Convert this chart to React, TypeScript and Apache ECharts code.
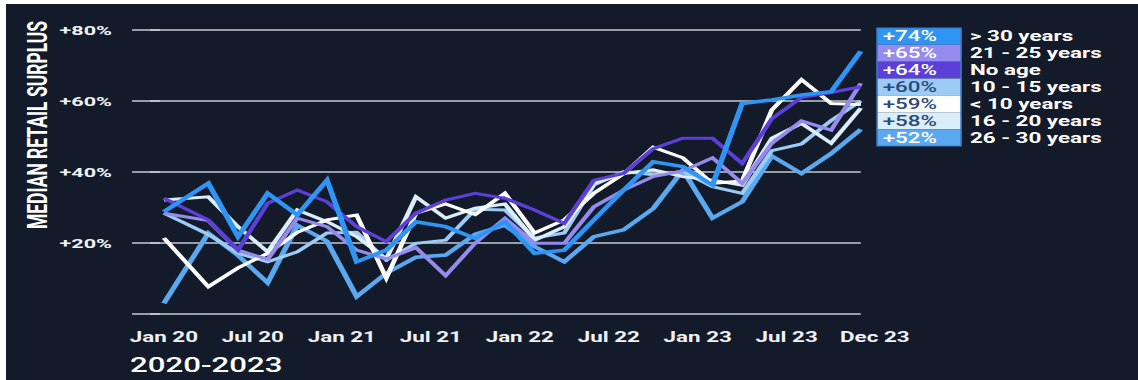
import React, { useEffect, useRef } from "react";
import * as echarts from "echarts";

// months since Jan 2020 for each observation
const months = [0, 3, 5, 7, 9, 11, 13, 15, 17, 19, 21, 23, 25, 27, 29, 31, 33, 35, 37, 39, 41, 43, 45, 47];

const over30 = [28.8, 36.8, 21.8, 34.0, 27.9, 37.7, 14.7, 18.0, 26.0, 24.6, 21.3, 26.0, 17.1, 18.0, 26.5, 34.9, 42.9, 41.5, 36.3, 59.3, 60.3, 61.7, 62.6, 74];
const y21to25 = [28.4, 26.3, 18, 15.4, 27, 24.6, 18, 15.5, 18.7, 10.8, 20, 27, 19.9, 19.9, 30.2, 34.9, 38.7, 40.3, 44, 36.8, 48.1, 54.4, 51.8, 65];
const noAge = [32.6, 26.5, 18, 31.2, 34.9, 31.6, 24.6, 20.4, 28.4, 32.1, 34, 32.6, 29.3, 25.5, 37.7, 39.6, 46.6, 49.5, 49.5, 42.4, 55, 61, 62.4, 64];
const y10to15 = [28.4, 22.4, 17.1, 14.7, 17.5, 22.8, 23, 15.2, 19.9, 20.8, 29.5, 29.3, 21.4, 22.8, 36.3, 40.1, 39.2, 40.1, 35.9, 34, 46, 47.9, 54.5, 60];
const under10 = [21.4, 7.7, 13, 17.1, 23, 26.5, 27.9, 10.1, 28.4, 31, 28, 34, 22.8, 26.5, 34, 39.5, 47, 44, 36.8, 37.5, 57.5, 66, 59.3, 59];
const y16to20 = [32.1, 33, 24.6, 17.5, 29.3, 26, 21.8, 15.5, 33, 27, 29.8, 31, 20.8, 24.6, 36.8, 39.6, 40.6, 38.7, 37.7, 36.3, 49.5, 53.7, 48.1, 58];
const y26to30 = [3.0, 22.8, 16.5, 8.8, 25.0, 20.5, 4.9, 11.5, 16, 16.6, 22.5, 25, 19, 14.7, 21.8, 23.7, 29.7, 40.5, 27, 31.6, 44.5, 39.6, 45.2, 52];

const seriesNames = ["> 30 years", "21 - 25 years", "No age", "10 - 15 years", "< 10 years", "16 - 20 years", "26 - 30 years"];
const seriesValues = [over30, y21to25, noAge, y10to15, under10, y16to20, y26to30];

const tickMonths = [0, 6, 12, 18, 24, 30, 36, 42, 47];
const tickLabels = ["Jan 20", "Jul 20", "Jan 21", "Jul 21", "Jan 22", "Jul 22", "Jan 23", "Jul 23", "Dec 23"];
const yTicks = [0, 20, 40, 60, 80];

// styling
const lineColors = ["#2f95f5", "#958aee", "#5b3fd6", "#9ccbf5", "#ffffff", "#dcedfa", "#5aa8f0"];
const boxText = ["#ffffff", "#ffffff", "#ffffff", "#2b4a7b", "#2b4a7b", "#2b4a7b", "#ffffff"];
const lineWidths = [3.5, 3, 3, 3, 3, 3, 3.5];
const drawOrder = [6, 3, 5, 4, 1, 2, 0];

const PAGE_W = 1132;
const PAGE_H = 376;
const SX = 1.6;
const CW = PAGE_W / SX;

export default function App() {
  const ref = useRef<HTMLDivElement>(null);
  useEffect(() => {
    if (!ref.current) return;
    const chart = echarts.init(ref.current, undefined, { renderer: "svg" });
    const rowH = 16.86;
    const boxX = 544.4;
    const boxY = 24;
    const boxW = 52.5;
    const legendEls: any[] = [];
    seriesNames.forEach((name, i) => {
      const vals = seriesValues[i];
      const last = vals[vals.length - 1];
      legendEls.push({
        type: "rect",
        shape: { x: boxX, y: boxY + i * rowH, width: boxW, height: rowH },
        style: { fill: lineColors[i] },
      });
      legendEls.push({
        type: "text",
        x: boxX + 3.5,
        y: boxY + i * rowH + rowH / 2 + 0.5,
        style: {
          text: `+${Math.round(last)}%`,
          fill: boxText[i],
          font: "500 14px Roboto",
          verticalAlign: "middle",
          align: "left",
        },
      });
      legendEls.push({
        type: "text",
        x: 602.5,
        y: boxY + i * rowH + rowH / 2 + 0.5,
        style: {
          text: name,
          fill: "#ffffff",
          font: "bold 14px Roboto",
          verticalAlign: "middle",
          align: "left",
        },
      });
    });
    legendEls.push({
      type: "rect",
      shape: { x: boxX, y: boxY, width: boxW, height: rowH * seriesNames.length },
      style: { fill: "none", stroke: "#3d7cc9", lineWidth: 1 },
    });

    chart.setOption({
      animation: false,
      backgroundColor: "transparent",
      title: {
        text: "2020-2023",
        left: 77.5,
        top: 351,
        padding: 0,
        textStyle: { color: "#ffffff", fontFamily: "Roboto", fontWeight: 500, fontSize: 19.5 },
      },
      grid: { left: 78.75, right: CW - 533.75, top: 26, bottom: 66 },
      xAxis: {
        type: "value",
        min: -2.15,
        max: 47,
        axisLine: { show: false },
        axisTick: { show: false },
        splitLine: { show: false },
        axisLabel: {
          customValues: tickMonths,
          margin: 16,
          color: "#eef1f6",
          fontFamily: "Roboto",
          fontWeight: "bold",
          fontSize: 14,
          formatter: (v: number) => {
            const idx = tickMonths.indexOf(Math.round(v));
            if (idx < 0) return "";
            if (idx === tickMonths.length - 1) return `{last|${tickLabels[idx]}}`;
            return tickLabels[idx];
          },
          rich: {
            last: {
              color: "#eef1f6",
              fontFamily: "Roboto",
              fontWeight: "bold",
              fontSize: 14,
              padding: [0, 0, 0, 17.5],
            },
          },
        },
      },
      yAxis: {
        type: "value",
        min: 0,
        max: 80,
        interval: 20,
        axisLine: { show: false },
        axisTick: {
          show: true,
          length: 8.75,
          lineStyle: { color: "#c5cbd6", width: 1.5, type: [0, 2.5, 6.25, 0] },
        },
        splitLine: { show: true, lineStyle: { color: "#c5cbd6", width: 1.5 } },
        axisLabel: {
          margin: 12.5,
          color: "#eef1f6",
          fontFamily: "Roboto",
          fontWeight: "bold",
          fontSize: 13.5,
          customValues: yTicks,
          formatter: (v: number) => (v === 0 ? "" : `+${v}%`),
        },
      },
      graphic: [
        {
          type: "text",
          x: 19.5,
          y: 121,
          rotation: Math.PI / 2,
          style: {
            text: "MEDIAN RETAIL SURPLUS",
            fill: "#ffffff",
            font: "bold 17.5px Roboto",
            align: "center",
            verticalAlign: "middle",
          },
        },
        ...legendEls,
      ],
      series: drawOrder.map((i) => ({
        name: seriesNames[i],
        type: "line",
        showSymbol: false,
        symbol: "none",
        data: months.map((m, k) => [m, seriesValues[i][k]]),
        lineStyle: { color: lineColors[i], width: lineWidths[i], join: "miter" },
        itemStyle: { color: lineColors[i] },
      })),
    });
    return () => chart.dispose();
  }, []);

  return (
    <div
      style={{
        position: "fixed",
        left: 6,
        top: 4,
        width: PAGE_W,
        height: PAGE_H,
        background: "#131a29",
        overflow: "hidden",
      }}
    >
      <div
        ref={ref}
        style={{
          width: CW,
          height: PAGE_H,
          transform: `scaleX(${SX})`,
          transformOrigin: "0 0",
        }}
      />
    </div>
  );
}
